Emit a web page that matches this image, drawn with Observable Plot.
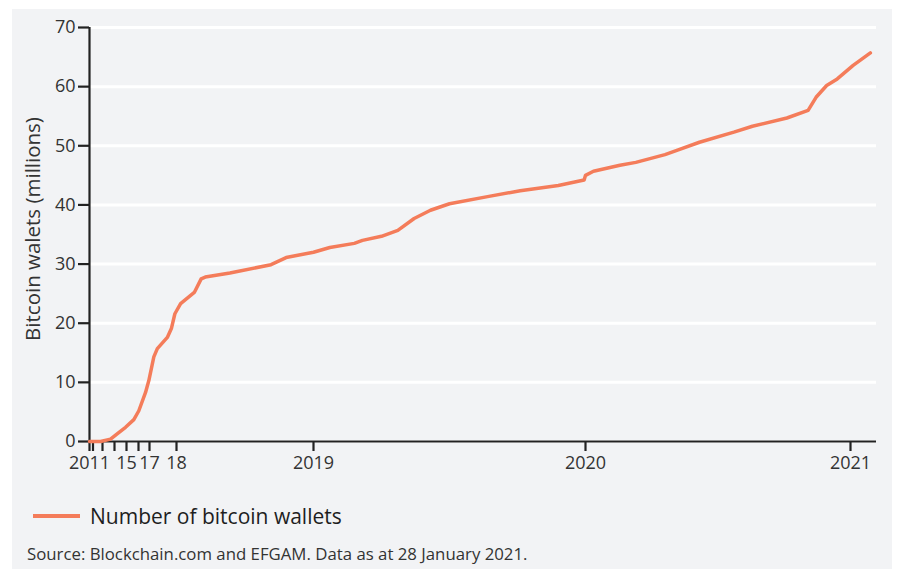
<!DOCTYPE html>
<html>
<head>
<meta charset="utf-8">
<script src="https://cdn.jsdelivr.net/npm/d3@7"></script>
<script src="https://cdn.jsdelivr.net/npm/@observablehq/plot@0.6"></script>
<style>
  html, body { margin: 0; padding: 0; background: #ffffff; }
  #wrap { position: relative; width: 907px; height: 576px; font-family: "Open Sans", sans-serif; color: #2b2b2b; }
  #panel { position: absolute; left: 12px; top: 9px; width: 880px; height: 560px; background: #f2f3f5; }
  #chart { position: absolute; left: 0; top: 0; }
  #ylabel { position: absolute; left: 32px; top: 229px; transform: translate(-50%, -50%) rotate(-90deg); white-space: nowrap; font-size: 20.5px; color: #333; }
  #legend { position: absolute; left: 33px; top: 502px; display: flex; align-items: center; font-size: 21px; color: #1e1e1e; }
  #legend .sw { width: 47px; height: 3.5px; background: #f47c5a; margin-right: 10px; }
  #source { position: absolute; left: 27px; top: 542px; font-size: 16.8px; color: #333; white-space: nowrap; }
</style>
</head>
<body>
<div id="wrap">
  <div id="panel"></div>
  <div id="chart"></div>
  <div id="ylabel">Bitcoin walets (millions)</div>
  <div id="legend"><div class="sw"></div><span>Number of bitcoin wallets</span></div>
  <div id="source">Source: Blockchain.com and EFGAM. Data as at 28 January 2021.</div>
</div>
<script>
// Time as fractional year, values in millions of wallets
const years = [2011.0, 2012.8, 2013.67, 2014.22, 2014.92, 2015.61, 2016.03, 2016.64, 2016.94,
  2017.16, 2017.29, 2017.66, 2017.81, 2017.94, 2018.03, 2018.13, 2018.18, 2018.21, 2018.39,
  2018.69, 2018.80, 2019.00, 2019.06, 2019.15, 2019.18, 2019.25, 2019.31, 2019.37, 2019.43,
  2019.50, 2019.64, 2019.76, 2019.90, 2019.995, 2020.0, 2020.03, 2020.13, 2020.19, 2020.30,
  2020.35, 2020.43, 2020.56, 2020.63, 2020.76, 2020.84, 2020.87, 2020.91, 2020.95, 2021.01, 2021.075];
const wallets = [0, 0, 0.4, 1.3, 2.4, 3.7, 5.2, 8.3, 10.3,
  14.3, 15.7, 17.6, 19.1, 21.6, 23.3, 25.2, 27.5, 27.8, 28.5,
  29.9, 31.1, 32.0, 32.8, 33.5, 34.0, 34.7, 35.7, 37.7, 39.1,
  40.2, 41.4, 42.4, 43.3, 44.2, 45.0, 45.7, 46.7, 47.2, 48.5,
  49.3, 50.6, 52.3, 53.3, 54.7, 56.0, 58.2, 60.2, 61.3, 63.6, 65.7];

const xTickValues = [2011, 2012, 2013, 2014, 2015, 2016, 2017, 2018, 2019, 2020, 2021];
const xTickLabels = ["2011", "", "", "", "15", "", "17", "18", "2019", "2020", "2021"];
const yTickValues = [0, 10, 20, 30, 40, 50, 60, 70];

const data = years.map((t, i) => ({t, v: wallets[i]}));
const labelOf = new Map(xTickValues.map((t, i) => [t, xTickLabels[i]]));

// piecewise (compressed early years) horizontal axis
const xRange = [89, 92.5, 102, 114, 126, 138, 149, 176, 313, 585, 850];

const chart = Plot.plot({
  width: 907,
  height: 480,
  marginLeft: 89,
  marginRight: 31,
  marginTop: 27,
  marginBottom: 39,
  style: {background: "transparent", fontFamily: "Open Sans, sans-serif", fontSize: "18px", color: "#333"},
  x: {type: "linear", domain: xTickValues, range: xRange},
  y: {domain: [0, 70]},
  marks: [
    Plot.gridY(yTickValues, {stroke: "#ffffff", strokeOpacity: 1, strokeWidth: 3}),
    Plot.axisY(yTickValues, {tickSize: 11, tickPadding: 3, fontSize: 18, label: null, stroke: "#222", strokeWidth: 2.2, color: "#333"}),
    Plot.axisX(xTickValues, {tickSize: 10, tickPadding: 5, fontSize: 18, label: null, stroke: "#222", strokeWidth: 2.2, color: "#333",
      tickFormat: d => labelOf.get(d)}),
    Plot.ruleX([2011], {stroke: "#222", strokeWidth: 2.2}),
    Plot.ruleY([0], {stroke: "#222", strokeWidth: 2.2}),
    Plot.line(data, {x: "t", y: "v", stroke: "#f47c5a", strokeWidth: 3.5, curve: "linear"})
  ]
});
document.getElementById("chart").appendChild(chart);
</script>
</body>
</html>
